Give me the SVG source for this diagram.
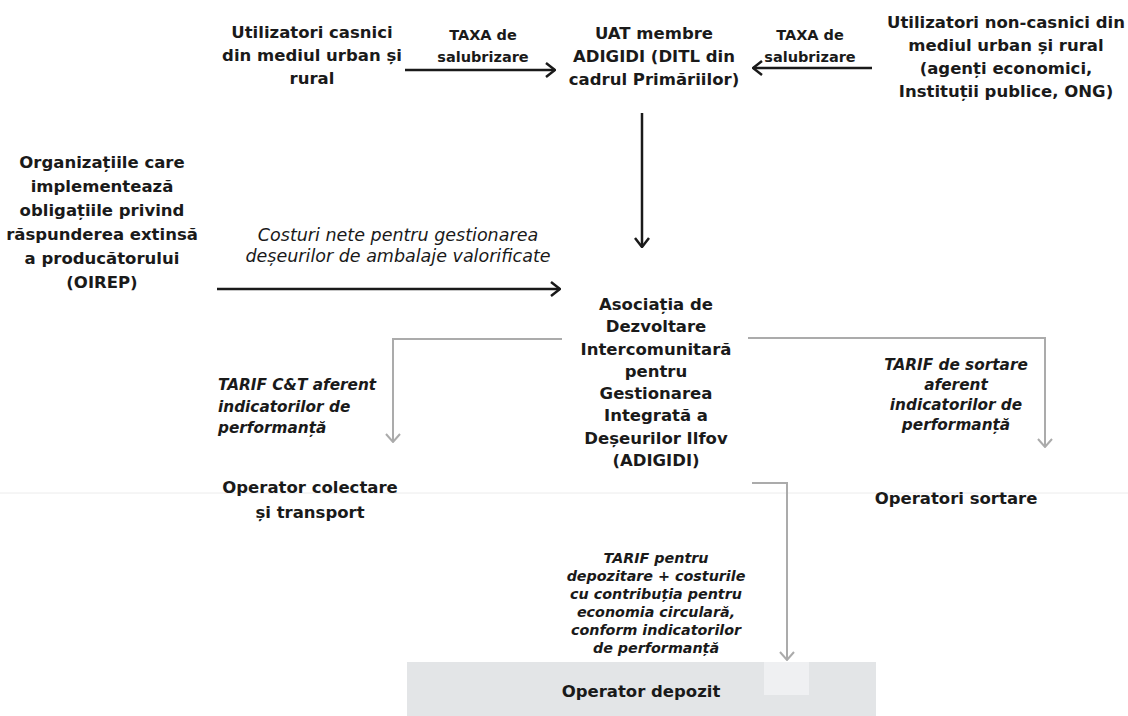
<svg xmlns="http://www.w3.org/2000/svg" width="1128" height="716" viewBox="0 0 1128 716">
<defs>
<style>
.t{font-family:"DejaVu Sans",Verdana,sans-serif;font-weight:bold;font-size:16.5px;fill:#1a1a1a;text-anchor:middle}
.l{font-family:"DejaVu Sans",Verdana,sans-serif;font-weight:bold;font-size:14.5px;fill:#1a1a1a;text-anchor:middle}
.i{font-family:"DejaVu Sans",Verdana,sans-serif;font-style:italic;font-size:17.5px;fill:#1a1a1a;text-anchor:middle}
.bi{font-family:"DejaVu Sans",Verdana,sans-serif;font-style:italic;font-weight:bold;font-size:15.3px;fill:#1a1a1a;text-anchor:middle}
.bs{font-family:"DejaVu Sans",Verdana,sans-serif;font-style:italic;font-weight:bold;font-size:14.3px;fill:#1a1a1a;text-anchor:middle}
.k{fill:none;stroke:#1a1a1a;stroke-width:2.5}
.g{fill:none;stroke:#ababab;stroke-width:2}
</style>
<marker id="ak" viewBox="0 0 12 16" refX="11" refY="8" markerWidth="12" markerHeight="16" markerUnits="userSpaceOnUse" orient="auto">
<path d="M2,1 L11,8 L2,15" fill="none" stroke="#1a1a1a" stroke-width="2.5"/>
</marker>
<marker id="ag" viewBox="0 0 10 16" refX="9" refY="8" markerWidth="10" markerHeight="16" markerUnits="userSpaceOnUse" orient="auto">
<path d="M1,1 L9,8 L1,15" fill="none" stroke="#ababab" stroke-width="2"/>
</marker>
</defs>
<rect width="1128" height="716" fill="#ffffff"/>
<line x1="0" y1="493" x2="1128" y2="493" stroke="#ececec" stroke-width="1"/>
<rect x="407" y="662" width="469" height="54" fill="#e3e5e7"/>
<rect x="764" y="662" width="45" height="33" fill="#eff0f2"/>

<g id="connectors">
<line class="k" x1="405" y1="70" x2="555" y2="70" marker-end="url(#ak)"/>
<line class="k" x1="872" y1="68" x2="753" y2="68" marker-end="url(#ak)"/>
<line class="k" x1="642" y1="113" x2="642" y2="247" marker-end="url(#ak)"/>
<line class="k" x1="217" y1="289" x2="560" y2="289" marker-end="url(#ak)"/>
<path class="g" d="M562,339 H393 V442" marker-end="url(#ag)"/>
<path class="g" d="M748,338 H1045 V447" marker-end="url(#ag)"/>
<path class="g" d="M752,483 H787 V660" marker-end="url(#ag)"/>
<text class="l" x="483" y="40">TAXA  de</text>
<text class="l" x="483" y="62">salubrizare</text>
<text class="l" x="810" y="40">TAXA de</text>
<text class="l" x="810" y="62">salubrizare</text>
<text class="i" x="398" y="241">Costuri nete pentru gestionarea</text>
<text class="i" x="398" y="262">deșeurilor de ambalaje valorificate</text>
<text class="bi" x="218" y="390" style="text-anchor:start">TARIF C&amp;T aferent</text>
<text class="bi" x="218" y="412" style="text-anchor:start">indicatorilor de</text>
<text class="bi" x="218" y="433" style="text-anchor:start">performanță</text>
<text class="bi" x="956" y="370">TARIF de sortare</text>
<text class="bi" x="956" y="390">aferent</text>
<text class="bi" x="956" y="410">indicatorilor de</text>
<text class="bi" x="956" y="430">performanță</text>
<text class="bs" x="656" y="563">TARIF pentru</text>
<text class="bs" x="656" y="581">depozitare + costurile</text>
<text class="bs" x="656" y="599">cu contribuția pentru</text>
<text class="bs" x="656" y="617">economia circulară,</text>
<text class="bs" x="656" y="635">conform indicatorilor</text>
<text class="bs" x="656" y="653">de performanță</text>
</g>

<g id="utilizatori-casnici">
<text class="t" x="312" y="38">Utilizatori casnici</text>
<text class="t" x="312" y="61">din mediul urban și</text>
<text class="t" x="312" y="84">rural</text>
</g>
<g id="uat">
<text class="t" x="654" y="39">UAT membre</text>
<text class="t" x="654" y="62">ADIGIDI (DITL din</text>
<text class="t" x="654" y="85">cadrul Primăriilor)</text>
</g>
<g id="utilizatori-noncasnici">
<text class="t" x="1006" y="28">Utilizatori non-casnici din</text>
<text class="t" x="1006" y="51">mediul urban și rural</text>
<text class="t" x="1006" y="74">(agenți economici,</text>
<text class="t" x="1006" y="97">Instituții publice, ONG)</text>
</g>
<g id="oirep">
<text class="t" x="102" y="168">Organizațiile care</text>
<text class="t" x="102" y="192">implementează</text>
<text class="t" x="102" y="216">obligațiile privind</text>
<text class="t" x="102" y="240">răspunderea extinsă</text>
<text class="t" x="102" y="264">a producătorului</text>
<text class="t" x="102" y="288">(OIREP)</text>
</g>
<g id="adigidi">
<text class="t" x="656" y="310">Asociația de</text>
<text class="t" x="656" y="332">Dezvoltare</text>
<text class="t" x="656" y="355">Intercomunitară</text>
<text class="t" x="656" y="377">pentru</text>
<text class="t" x="656" y="399">Gestionarea</text>
<text class="t" x="656" y="421">Integrată a</text>
<text class="t" x="656" y="444">Deșeurilor Ilfov</text>
<text class="t" x="656" y="466">(ADIGIDI)</text>
</g>
<g id="operator-colectare">
<text class="t" x="310" y="493">Operator colectare</text>
<text class="t" x="310" y="518">și transport</text>
</g>
<g id="operatori-sortare">
<text class="t" x="956" y="504">Operatori sortare</text>
</g>
<g id="operator-depozit">
<text class="t" x="641" y="697">Operator depozit</text>
</g>
</svg>
